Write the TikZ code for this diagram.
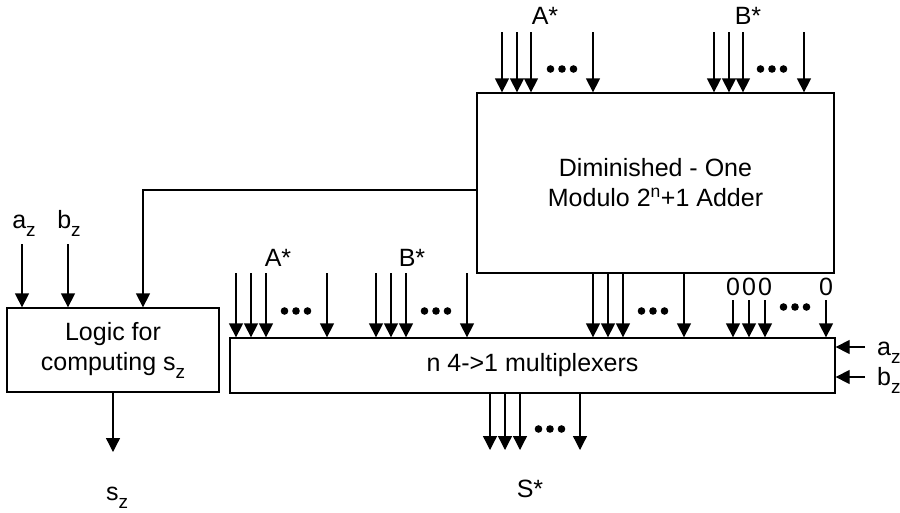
\documentclass[tikz,border=0pt]{standalone}
\usepackage{fontspec}
\setmainfont{Liberation Sans}
\usetikzlibrary{arrows.meta}
\tikzset{
  block/.style = {draw, line width=1.3pt, inner sep=0pt, align=center,
                  font=\fontsize{25}{30}\selectfont},
  lbl/.style   = {inner sep=0pt, font=\fontsize{25}{30}\selectfont},
  arr/.style   = {-{Triangle[length=14pt,width=14pt]}, line width=1.3pt},
  wire/.style  = {line width=1.3pt}
}
\newcommand{\lowz}{\raisebox{-8pt}{\fontsize{19}{19}\selectfont z}}
\newcommand{\bitdots}[1]{\fill (#1) ++(-11.5,0) circle (3.8pt) ++(11.5,0) circle (3.8pt) ++(11.5,0) circle (3.8pt);}

\begin{document}
\begin{tikzpicture}[x=1pt, y=-1pt]
  \useasboundingbox (0,0) rectangle (900,512);

  \node[block, minimum width=357pt, minimum height=180pt] (adder) at (655.5,183)
        {Diminished - One\\Modulo 2\textsuperscript{n}+1 Adder};
  \node[block, minimum width=212pt, minimum height=84pt]  (logic) at (113,350)
        {Logic for\\computing s\lowz};
  \node[block, minimum width=605pt, minimum height=55pt]  (mux)   at (532.5,365.5)
        {n 4->1 multiplexers};

  \node[lbl, anchor=base] (topA) at (545,24)  {A*};
  \node[lbl, anchor=base] (topB) at (748,24)  {B*};
  \node[lbl, anchor=base] (muxA) at (278,266) {A*};
  \node[lbl, anchor=base] (muxB) at (412,266) {B*};
  \node[lbl, anchor=base] (laz)  at (24,228)  {a\lowz};
  \node[lbl, anchor=base] (lbz)  at (69,228)  {b\lowz};
  \node[lbl, anchor=base west] (raz) at (877,355) {a\lowz};
  \node[lbl, anchor=base west] (rbz) at (877,385) {b\lowz};
  \node[lbl, anchor=base] (sz)   at (117,500) {s\lowz};
  \node[lbl, anchor=base] (sout) at (530,497) {S*};

  \foreach \x [count=\i] in {502,517,531,593} {
    \coordinate (ta\i) at (\x,32);
    \draw[arr] (ta\i) -- (ta\i |- adder.north);
  }
  \foreach \x [count=\i] in {714,729,743,804} {
    \coordinate (tb\i) at (\x,32);
    \draw[arr] (tb\i) -- (tb\i |- adder.north);
  }
  \foreach \x [count=\i] in {236,251,266,327} {
    \coordinate (ma\i) at (\x,273);
    \draw[arr] (ma\i) -- (ma\i |- mux.north);
  }
  \foreach \x [count=\i] in {376,391,406,467} {
    \coordinate (mb\i) at (\x,273);
    \draw[arr] (mb\i) -- (mb\i |- mux.north);
  }
  \foreach \x [count=\i] in {593,608,623,684} {
    \coordinate (ms\i) at (\x,273);
    \draw[arr] (ms\i |- adder.south) -- (ms\i |- mux.north);
  }
  \foreach \x [count=\i] in {733,749,765,826} {
    \coordinate (mz\i) at (\x,300);
    \node[lbl, anchor=base] (zero\i) at (\x,295) {0};
    \draw[arr] (mz\i) -- (mz\i |- mux.north);
  }
  \foreach \x [count=\i] in {490,505,520,580} {
    \coordinate (so\i) at (\x,450);
    \draw[arr] (so\i |- mux.south) -- (so\i);
  }

  \bitdots{562,69}
  \bitdots{772,69}
  \bitdots{296,311}
  \bitdots{436,311}
  \bitdots{653,311}
  \bitdots{795,307}
  \bitdots{550,429}

  \coordinate (az) at (22,244);
  \coordinate (bz) at (68,244);
  \coordinate (szend) at (113,452);
  \draw[arr] (az) -- (az |- logic.north);
  \draw[arr] (bz) -- (bz |- logic.north);
  \draw[arr] ([yshift=-7pt]adder.west) -| ([xshift=30pt]logic.north);
  \draw[arr] (logic.south) -- (szend);

  \coordinate (raz0) at (865,347);
  \coordinate (rbz0) at (865,377);
  \draw[arr] (raz0) -- (raz0 -| mux.east);
  \draw[arr] (rbz0) -- (rbz0 -| mux.east);
\end{tikzpicture}
\end{document}
